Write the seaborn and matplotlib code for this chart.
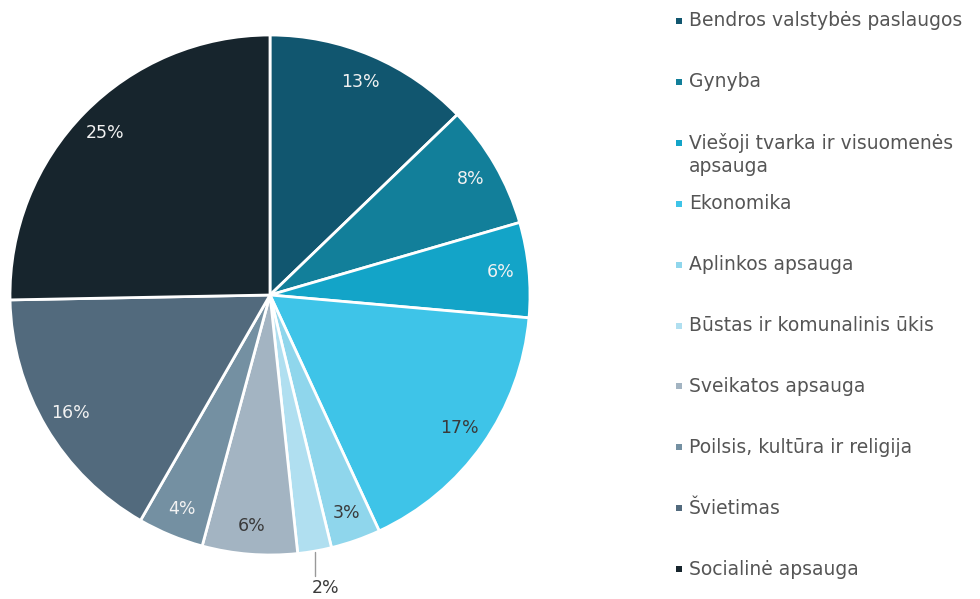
import numpy as np
import matplotlib
matplotlib.use("Agg")
from matplotlib import pyplot as plt
import seaborn as sns

# Budget shares by function (%)
categories = [
    "Bendros valstybės paslaugos",
    "Gynyba",
    "Viešoji tvarka ir visuomenės\napsauga",
    "Ekonomika",
    "Aplinkos apsauga",
    "Būstas ir komunalinis ūkis",
    "Sveikatos apsauga",
    "Poilsis, kultūra ir religija",
    "Švietimas",
    "Socialinė apsauga",
]
shares = [12.8, 7.7, 5.9, 16.7, 3.1, 2.1, 5.9, 4.1, 16.4, 25.3]
slice_colors = ["#11566f", "#127f9a", "#13a4c8", "#3ec4e8", "#8fd6ec",
                "#b0dff0", "#a3b4c2", "#7490a2", "#526a7d", "#17252d"]
dark_text = ["Ekonomika", "Aplinkos apsauga", "Būstas ir komunalinis ūkis", "Sveikatos apsauga"]
outside_label = "Būstas ir komunalinis ūkis"

sns.set_theme(style="white")
plt.rcParams['font.family'] = ['DejaVu Sans']

palette = sns.color_palette(slice_colors)

fig = plt.figure(figsize=(9.8, 5.99), dpi=100)
ax = fig.add_axes([10 / 980, 44 / 599, 520 / 980, 520 / 599])

wedges, texts, autotexts = ax.pie(
    shares, colors=palette, startangle=90, counterclock=False,
    autopct=lambda p: f"{p:.0f}%", pctdistance=0.89,
    wedgeprops=dict(edgecolor="white", linewidth=2),
    textprops=dict(fontsize=12.5, color="#f2f2f2"),
)
ax.set_xlim(-1, 1)
ax.set_ylim(-1, 1)
ax.set_aspect("equal")
ax.axis("off")

for name, w, t in zip(categories, wedges, autotexts):
    if name in dark_text:
        t.set_color("#3a3a3a")
    if name == outside_label:
        # small slice: label goes below the pie with a leader line
        mid = np.deg2rad((w.theta1 + w.theta2) / 2)
        x0 = np.cos(mid)
        ax.plot([x0, x0], [-0.99, -1.08], color="#999999", lw=1, clip_on=False)
        t.set_position((x0 - 0.01, -1.128))
        t.set_horizontalalignment("left")
        t.set_verticalalignment("center")
        t.set_color("#3a3a3a")

# Legend drawn by hand in pixel coordinates
lax = fig.add_axes([0, 0, 1, 1], zorder=-1)
lax.set_xlim(0, 980)
lax.set_ylim(599, 0)
lax.axis("off")
for i, (name, c) in enumerate(zip(categories, palette)):
    y = 21 + 60.9 * i
    lax.scatter([679], [y], marker="s", s=22, color=c, linewidths=0)
    for j, line in enumerate(name.split("\n")):
        lax.text(689, y + 24 * j, line, fontsize=13.5, color="#555555",
                 va="center", ha="left")

fig.savefig("out.png", dpi=100)
